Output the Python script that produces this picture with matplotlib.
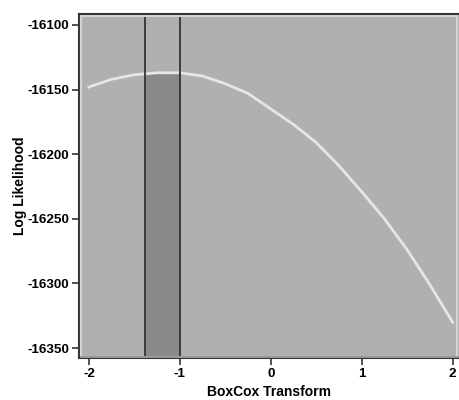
import numpy as np
import matplotlib.pyplot as plt
from matplotlib.patches import Rectangle

# profile log likelihood over the Box-Cox lambda grid
lam = [-2.0, -1.75, -1.5, -1.25, -1.0, -0.75, -0.5, -0.25, 0.0,
       0.25, 0.5, 0.75, 1.0, 1.25, 1.5, 1.75, 2.0]
loglik = [-16148, -16142, -16138.5, -16137, -16137, -16139.5, -16145.5, -16153, -16165,
          -16177, -16191, -16209, -16229, -16250, -16274, -16301, -16330]
ci_low, ci_high = -1.385, -1.0

plt.rcParams['font.family'] = ['Liberation Sans', 'DejaVu Sans']
plt.rcParams['font.weight'] = 'bold'

fig = plt.figure(figsize=(4.6, 4.0), dpi=100)
fig.patch.set_facecolor('white')
ax = fig.add_axes([79 / 460, 42 / 400, 380 / 460, 344 / 400])
ax.set_facecolor('#b0b0b0')

ymin, ymax = -16357.7, -16091.5
ax.set_xlim(-2.11, 2.07)
ax.set_ylim(ymin, ymax)

x = np.array(lam)
y = np.array(loglik)

# shaded confidence band under the curve
xs = np.linspace(ci_low, ci_high, 50)
ax.fill_between(xs, ymin, np.interp(xs, x, y), color='#8a8a8a', lw=0, zorder=1)
ax.axvline(ci_low, color='#333333', lw=1.3, zorder=3)
ax.axvline(ci_high, color='#333333', lw=1.3, zorder=3)

ax.plot(x, y, color='#e6e6e6', lw=2, zorder=2)

# bevelled frame
ax.add_patch(Rectangle((0.004, 0.004), 0.992, 0.99, transform=ax.transAxes,
                       fill=False, ec='#d4d4d4', lw=1.5, zorder=4))
ax.plot([0.004, 1], [0.004, 0.004], transform=ax.transAxes, color='#8c8c8c', lw=1.2, zorder=5)
for s in ax.spines.values():
    s.set_color('#333333')
    s.set_linewidth(1.5)
ax.spines['right'].set_visible(False)

ax.set_xticks([-2, -1, 0, 1, 2])
ax.set_xticklabels(['-2', '-1', '0', '1', '2'])
ax.set_yticks([-16100, -16150, -16200, -16250, -16300, -16350])
ax.set_yticklabels(['-16100', '-16150', '-16200', '-16250', '-16300', '-16350'])
ax.tick_params(direction='out', length=5, width=1.2, color='#333333',
               labelsize=9.7, pad=2)

ax.set_xlabel('BoxCox Transform', fontsize=10, fontweight='bold', labelpad=4)
ax.set_ylabel('Log Likelihood', fontsize=10, fontweight='bold', labelpad=0)

fig.savefig('out.png', dpi=100)
